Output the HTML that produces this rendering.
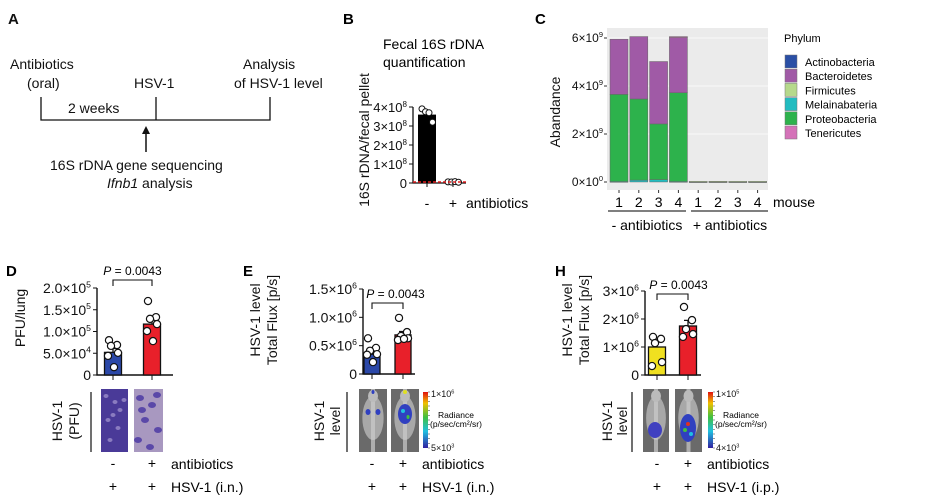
<!DOCTYPE html>
<html><head><meta charset="utf-8"><style>
body{margin:0;background:#fff}
svg{display:block;font-family:"Liberation Sans",Arial,sans-serif}
</style></head><body>
<svg id="fig" width="940" height="500" viewBox="0 0 940 500" xmlns="http://www.w3.org/2000/svg">
<defs>
<linearGradient id="cbar" x1="0" y1="0" x2="0" y2="1">
<stop offset="0" stop-color="#e01010"/><stop offset="0.2" stop-color="#f0c000"/><stop offset="0.45" stop-color="#40c040"/><stop offset="0.7" stop-color="#20c0e0"/><stop offset="1" stop-color="#3020a0"/>
</linearGradient>
</defs>
<g font-size="14" fill="#111">
<text x="8" y="24" font-weight="bold" font-size="15">A</text>
<text x="10" y="69">Antibiotics</text>
<text x="27" y="88">(oral)</text>
<text x="134" y="88">HSV-1</text>
<text x="243" y="69">Analysis</text>
<text x="234" y="88">of HSV-1 level</text>
<text x="68" y="113">2 weeks</text>
<path d="M41 97V120H270V97M156 97V120" stroke="#111" stroke-width="1.3" fill="none"/>
<path d="M146 152V133" stroke="#111" stroke-width="1.5"/>
<path d="M142 134L146 126L150 134Z" fill="#111"/>
<text x="50" y="170">16S rDNA gene sequencing</text>
<text x="107" y="188"><tspan font-style="italic">Ifnb1</tspan> analysis</text>
</g>
<g id="panelB"></g>
<g id="panelC"></g>
<g id="panelD"></g>
<g id="panelE"></g>
<g id="panelH"></g>
</svg>
<script>
// ---- Panel B data
const bCats = ["-", "+"];
const bMeans = [3.6, 0.05];
const bDots = [[3.9, 3.75, 3.7, 3.2], [0.06, 0.05, 0.07, 0.04]];
const bTicks = [0, 1, 2, 3, 4];
// ---- Panel C data
const cMice = ["1","2","3","4","1","2","3","4"];
const cPhyla = ["Actinobacteria","Bacteroidetes","Firmicutes","Melainabateria","Proteobacteria","Tenericutes"];
const cColors = ["#2a4fa5","#a05aa6","#b6d98c","#22bcc0","#2db24c","#d472b8"];
const cActino = [0,0,0,0,0,0,0,0];
const cMelain = [0.02,0.08,0.1,0.02,0,0,0,0];
const cProteo = [3.63,3.38,2.32,3.7,0.01,0.01,0.01,0.01];
const cBactero = [2.3,2.6,2.6,2.3,0.01,0.01,0.01,0.01];
const cFirmi = [0,0,0,0,0.005,0.01,0.005,0.005];
const cTener = [0,0,0,0.04,0,0,0,0];
const cTicks = [0, 2, 4, 6];
// ---- Panel D data
const dMeans = [0.52, 1.17];
const dErr = [0.09, 0.13];
const dDots = [[0.8, 0.69, 0.67, 0.51, 0.44, 0.18], [1.7, 1.33, 1.29, 1.17, 1.01, 0.78]];
const dTicks = ["0","5.0×10|4","1.0×10|5","1.5×10|5","2.0×10|5"];
const dTickVals = [0, 0.5, 1.0, 1.5, 2.0];
// ---- Panel E data
const eMeans = [0.35, 0.69];
const eErr = [0.06, 0.06];
const eDots = [[0.63, 0.46, 0.41, 0.35, 0.34, 0.21], [0.99, 0.74, 0.67, 0.63, 0.6, 0.62]];
const eTicks = ["0","0.5×10|6","1.0×10|6","1.5×10|6"];
const eTickVals = [0, 0.5, 1.0, 1.5];
// ---- Panel H data
const hMeans = [1.0, 1.75];
const hErr = [0.18, 0.2];
const hDots = [[1.36, 1.29, 1.14, 0.46, 0.32], [2.43, 1.96, 1.64, 1.46, 1.36]];
const hTicks = ["0","1×10|6","2×10|6","3×10|6"];
const hTickVals = [0, 1, 2, 3];

const NS = "http://www.w3.org/2000/svg";
function mk(parent, tag, attrs, txt) {
  const el = document.createElementNS(NS, tag);
  for (const k in attrs) el.setAttribute(k, attrs[k]);
  if (txt !== undefined) el.textContent = txt;
  parent.appendChild(el);
  return el;
}
function sup(parent, x, y, label, size, anchor) {
  const parts = label.split("|");
  const t = mk(parent, "text", {x: x, y: y, "font-size": size, "text-anchor": anchor || "end", fill: "#111"});
  const a = document.createElementNS(NS, "tspan"); a.textContent = parts[0]; t.appendChild(a);
  if (parts.length > 1) {
    const b = document.createElementNS(NS, "tspan");
    b.setAttribute("font-size", size * 0.62); b.setAttribute("dy", -size * 0.4);
    b.textContent = parts[1]; t.appendChild(b);
  }
  return t;
}
function rotText(parent, x, y, s, size) {
  return mk(parent, "text", {x: 0, y: 0, "font-size": size, "text-anchor": "middle", fill: "#111", transform: `translate(${x},${y}) rotate(-90)`}, s);
}

// ================= Panel B
(function () {
  const g = document.getElementById("panelB");
  mk(g, "text", {x: 343, y: 24, "font-weight": "bold", "font-size": 15}, "B");
  mk(g, "text", {x: 383, y: 49, "font-size": 14}, "Fecal 16S rDNA");
  mk(g, "text", {x: 383, y: 67, "font-size": 14}, "quantification");
  const yl = rotText(g, 369, 140, "16S rDNA/fecal pellet", 14);
  
  
  const y0 = 183, k = 19;
  const ys = v => y0 - v * k;
  const xs = [427, 453];
  mk(g, "path", {d: `M413 ${ys(4)}V${y0}H466`, stroke: "#111", "stroke-width": 1.3, fill: "none"});
  bTicks.forEach(t => {
    mk(g, "line", {x1: 409, x2: 413, y1: ys(t), y2: ys(t), stroke: "#111"});
    const lb = sup(g, 407, ys(t) + 5, t === 0 ? "0" : t + "×10|8", 13);
    
    
  });
  bCats.forEach((c, i) => {
    const bar = mk(g, "rect", {x: xs[i] - 9, y: ys(bMeans[i]), width: 18, height: Math.max(0.5, y0 - ys(bMeans[i])), fill: "#000"});
    
    
    bDots[i].forEach((v, j) => {
      const d = mk(g, "circle", {cx: xs[i] - 5 + j * 3.5, cy: ys(v), r: 3, fill: "#fff", stroke: "#111"});
      
      
    });
    mk(g, "line", {x1: xs[i], x2: xs[i], y1: y0, y2: y0 + 4, stroke: "#111"});
    mk(g, "text", {x: xs[i], y: 208, "font-size": 14, "text-anchor": "middle"}, c);
  });
  mk(g, "line", {x1: 413, x2: 466, y1: 182, y2: 182, stroke: "#e02020", "stroke-width": 1.5, "stroke-dasharray": "3,2"});
  mk(g, "text", {x: 466, y: 208, "font-size": 14}, "antibiotics");
})();

// ================= Panel C
(function () {
  const g = document.getElementById("panelC");
  mk(g, "text", {x: 535, y: 24, "font-weight": "bold", "font-size": 15}, "C");
  mk(g, "rect", {x: 607, y: 28, width: 161, height: 162, fill: "#ebebeb"});
  const y0 = 182, k = 24;
  const ys = v => y0 - v * k;
  cTicks.forEach(t => {
    mk(g, "line", {x1: 607, x2: 768, y1: ys(t), y2: ys(t), stroke: "#fff", "stroke-width": 0.8});
    mk(g, "line", {x1: 604, x2: 607, y1: ys(t), y2: ys(t), stroke: "#333"});
    const lb = sup(g, 603, ys(t) + 4, t + "×10|" + (t === 0 ? "0" : "9"), 12);
    
    
  });
  const yt = rotText(g, 560, 112, "Abandance", 14);
  
  
  const series = [cActino, cMelain, cProteo, cBactero, cFirmi, cTener];
  const sColors = [cColors[0], cColors[3], cColors[4], cColors[1], cColors[2], cColors[5]];
  const xc = i => 619 + i * 19.8;
  cMice.forEach((m, i) => {
    let acc = 0;
    series.forEach((s, si) => {
      const v = s[i];
      if (v <= 0) return;
      const r = mk(g, "rect", {x: xc(i) - 9, y: ys(acc + v), width: 18, height: Math.max(0.8, v * k), fill: sColors[si], stroke: "#666", "stroke-width": 0.5});
      
      
      acc += v;
    });
    mk(g, "line", {x1: xc(i), x2: xc(i), y1: 190, y2: 193, stroke: "#333"});
    const lb = mk(g, "text", {x: xc(i), y: 207, "font-size": 14, "text-anchor": "middle"}, m);
    
    
  });
  mk(g, "text", {x: 773, y: 207, "font-size": 14}, "mouse");
  mk(g, "line", {x1: 608, x2: 686, y1: 211, y2: 211, stroke: "#333", "stroke-width": 1.3});
  mk(g, "line", {x1: 691, x2: 768, y1: 211, y2: 211, stroke: "#333", "stroke-width": 1.3});
  mk(g, "text", {x: 647, y: 230, "font-size": 14, "text-anchor": "middle"}, "- antibiotics");
  mk(g, "text", {x: 730, y: 230, "font-size": 14, "text-anchor": "middle"}, "+ antibiotics");
  mk(g, "text", {x: 784, y: 42, "font-size": 11}, "Phylum");
  cPhyla.forEach((p, i) => {
    const y = 55 + i * 14.2;
    const sw = mk(g, "rect", {x: 785, y: y, width: 12, height: 13, fill: cColors[i], stroke: "#777", "stroke-width": 0.5});
    
    
    const lt = mk(g, "text", {x: 805, y: y + 11, "font-size": 11}, p);
    
    
  });
})();

// ================= Bar panels D, E, H
function barPanel(opts) {
  const g = document.getElementById(opts.id);
  mk(g, "text", {x: opts.lx, y: 276, "font-weight": "bold", "font-size": 15}, opts.letter);
  const ys = v => opts.y0 - (v / opts.max) * (opts.y0 - opts.yTop);
  mk(g, "path", {d: `M${opts.ax} ${opts.yTop}V${opts.y0}H${opts.axEnd}`, stroke: "#111", "stroke-width": 1.4, fill: "none"});
  opts.tickVals.forEach((t, i) => {
    mk(g, "line", {x1: opts.ax - 4, x2: opts.ax, y1: ys(t), y2: ys(t), stroke: "#111"});
    const lb = sup(g, opts.ax - 6, ys(t) + 5, opts.ticks[i], 14);
    
    
  });
  opts.ylab.forEach((s, i) => {
    const t = rotText(g, opts.ylx[i], opts.yly, s, 14);
    
    
  });
  opts.means.forEach((m, i) => {
    const x = opts.xs[i], w = opts.bw;
    const e = mk(g, "path", {d: `M${x} ${ys(m)}V${ys(m + opts.err[i])}M${x - 4} ${ys(m + opts.err[i])}H${x + 4}`, stroke: "#111", "stroke-width": 1.3});
    
    
    const b = mk(g, "rect", {x: x - w / 2, y: ys(m), width: w, height: opts.y0 - ys(m), fill: opts.colors[i], stroke: "#111", "stroke-width": 1.3});
    
    
    mk(g, "line", {x1: x, x2: x, y1: opts.y0, y2: opts.y0 + 5, stroke: "#111"});
    opts.dots[i].forEach((v, j) => {
      const c = mk(g, "circle", {cx: x + [-4, 4, -2, 5, -5, 1][j % 6], cy: ys(v), r: 3.6, fill: "#fff", stroke: "#111", "stroke-width": 1.2});
      
      
    });
  });
  const by = opts.brY;
  mk(g, "path", {d: `M${opts.xs[0]} ${by + 6}V${by}H${opts.xs[1]}V${by + 6}`, stroke: "#111", "stroke-width": 1.1, fill: "none"});
  const p = mk(g, "text", {x: (opts.xs[0] + opts.xs[1]) / 2 + (opts.pOff || 0), y: by - 5, "font-size": 12, "text-anchor": "middle"});
  p.innerHTML = '<tspan font-style="italic">P</tspan> = 0.0043';
  
  
  mk(g, "text", {x: opts.xs[0], y: 468, "font-size": 14, "text-anchor": "middle"}, "-");
  mk(g, "text", {x: opts.xs[1], y: 468, "font-size": 14, "text-anchor": "middle"}, "+");
  mk(g, "text", {x: opts.xs[1] + 19, y: 469, "font-size": 14}, "antibiotics");
  mk(g, "text", {x: opts.xs[0], y: 491, "font-size": 14, "text-anchor": "middle"}, "+");
  mk(g, "text", {x: opts.xs[1], y: 491, "font-size": 14, "text-anchor": "middle"}, "+");
  mk(g, "text", {x: opts.xs[1] + 19, y: 492, "font-size": 14}, opts.route);
  opts.imgLab.forEach((s, i) => rotText(g, opts.imgLx[i], 421, s, 14));
  mk(g, "line", {x1: opts.vline, x2: opts.vline, y1: 392, y2: 452, stroke: "#111", "stroke-width": 1.2});
  return g;
}

function mouseImg(g, x, w, blobs) {
  const im = mk(g, "g", {});
  
  
  mk(im, "rect", {x: x, y: 389, width: w, height: 63, fill: "#6a6a6a"});
  mk(im, "ellipse", {cx: x + w / 2, cy: 418, rx: w * 0.38, ry: 22, fill: "#a8a8a8"});
  mk(im, "rect", {x: x + w / 2 - 2, y: 389, width: 4, height: 63, fill: "#ccc", opacity: 0.7});
  mk(im, "ellipse", {cx: x + w / 2, cy: 396, rx: 5, ry: 6, fill: "#bbb"});
  blobs.forEach(b => mk(im, "ellipse", {cx: x + b[0], cy: b[1], rx: b[2], ry: b[3], fill: b[4]}));
}
function colorbar(g, x, top, bot) {
  const cb = mk(g, "rect", {x: x, y: 392, width: 5, height: 56, fill: "url(#cbar)"});
  
  
  for (let i = 0; i <= 12; i++) mk(g, "line", {x1: x + 5, x2: x + 7, y1: 392 + i * 56 / 12, y2: 392 + i * 56 / 12, stroke: "#333", "stroke-width": 0.5});
  sup(g, x + 8, 397, top, 9, "start");
  mk(g, "text", {x: x + 33, y: 418, "font-size": 8.5, "text-anchor": "middle"}, "Radiance");
  mk(g, "text", {x: x + 33, y: 427, "font-size": 8.5, "text-anchor": "middle"}, "(p/sec/cm²/sr)");
  sup(g, x + 8, 451, bot, 9, "start");
}

(function () {
  const g = barPanel({id: "panelD", letter: "D", lx: 6, ax: 97, axEnd: 173, yTop: 288, y0: 375, max: 2.0,
    ticks: dTicks, tickVals: dTickVals, ylab: ["PFU/lung"], ylx: [25], yly: 318,
    means: dMeans, err: dErr, dots: dDots, xs: [113, 152], bw: 17, colors: ["#2b48a8", "#e8202a"],
    brY: 280, route: "HSV-1 (i.n.)", imgLab: ["HSV-1", "(PFU)"], imgLx: [62, 79], vline: 91});
  const p1 = mk(g, "rect", {x: 101, y: 389, width: 27, height: 63, fill: "#4a3a98"});
  
  
  const p2 = mk(g, "rect", {x: 134, y: 389, width: 29, height: 63, fill: "#a898c0"});
  
  
  [[106,396],[115,402],[120,410],[108,420],[118,428],[110,440],[124,400],[113,415]].forEach(s => mk(g, "ellipse", {cx: s[0], cy: s[1], rx: 2.5, ry: 2, fill: "#8a7cc0"}));
  [[140,398],[152,405],[145,420],[158,430],[138,440],[150,447],[157,395],[142,410]].forEach(s => mk(g, "ellipse", {cx: s[0], cy: s[1], rx: 4, ry: 3, fill: "#5a48a8"}));
})();
(function () {
  const g = barPanel({id: "panelE", letter: "E", lx: 243, ax: 363, axEnd: 415, yTop: 289, y0: 374, max: 1.5,
    ticks: eTicks, tickVals: eTickVals, ylab: ["HSV-1 level", "Total Flux [p/s]"], ylx: [260, 277], yly: 320,
    means: eMeans, err: eErr, dots: eDots, xs: [372, 403], bw: 16, colors: ["#2b48a8", "#e8202a"],
    brY: 303, pOff: 8, route: "HSV-1 (i.n.)", imgLab: ["HSV-1", "level"], imgLx: [324, 340], vline: 347});
  mouseImg(g, 359, 28, [[14, 392, 1.5, 2, "#3040c0"], [9, 412, 2.5, 3, "#3040c0"], [19, 412, 2.5, 3, "#3040c0"]]);
  mouseImg(g, 391, 28, [[14, 392, 2, 2, "#e0e020"], [14, 414, 7, 10, "#3040c0"], [12, 411, 2, 2, "#20c0e0"], [17, 417, 1.5, 2, "#40c040"]]);
  colorbar(g, 423, "1×10|6", "5×10|3");
})();
(function () {
  const g = barPanel({id: "panelH", letter: "H", lx: 555, ax: 645, axEnd: 701, yTop: 291, y0: 375, max: 3,
    ticks: hTicks, tickVals: hTickVals, ylab: ["HSV-1 level", "Total Flux [p/s]"], ylx: [572, 589], yly: 320,
    means: hMeans, err: hErr, dots: hDots, xs: [657, 688], bw: 17, colors: ["#f0e020", "#e8202a"],
    brY: 294, pOff: 6, route: "HSV-1 (i.p.)", imgLab: ["HSV-1", "level"], imgLx: [612, 627], vline: 632});
  mouseImg(g, 643, 26, [[12, 430, 7, 8, "#4040c0"]]);
  mouseImg(g, 675, 27, [[13, 428, 8, 14, "#3040c0"], [13, 424, 2, 2, "#e03020"], [10, 430, 2, 2, "#40c040"], [16, 434, 2, 2, "#20c0e0"]]);
  colorbar(g, 708, "1×10|5", "4×10|3");
})();
</script>
</body></html>
